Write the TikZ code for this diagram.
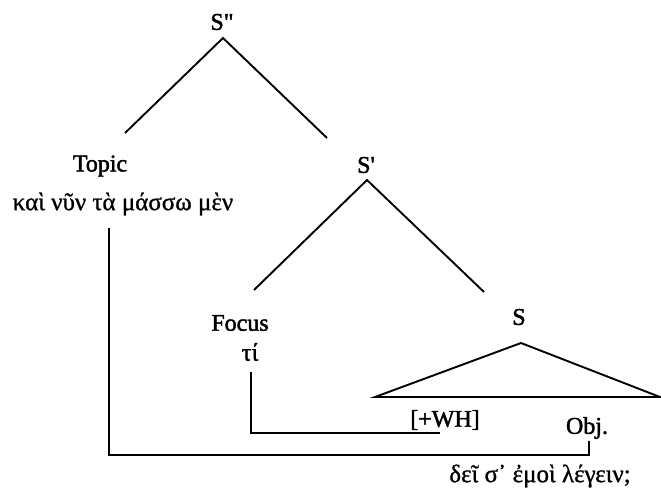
\documentclass[tikz,border=0pt]{standalone}
\usepackage{fontspec}
\setmainfont{Liberation Serif}
\newfontfamily\labfont{Liberation Serif}[FakeBold=1.8]
\newfontfamily\grfont{Liberation Serif}[FakeBold=1.0]
\begin{document}
\begin{tikzpicture}[x=1pt,y=-1pt,
  lab/.style={inner sep=0pt,font=\labfont\fontsize{24}{28}\selectfont},
  grk/.style={inner sep=0pt,font=\grfont\fontsize{25}{29}\selectfont},
  edge/.style={line width=1.9pt}]
\useasboundingbox (0,0) rectangle (661,490);
% labels
\node[lab] (spp) at (222,22) {S\char"22};
\node[lab] (topic) at (100,166) {Topic};
\node[grk] (topgr) at (123,204) {καὶ νῦν τὰ μάσσω μὲν};
\node[lab] (sp) at (366,165) {S\char"27};
\node[lab] (focus) at (240,323) {Focus};
\node[grk] (ti) at (250,352) {τί};
\node[lab] (s) at (519,317) {S};
\node[lab] (wh) at (445,420) {[+WH]};
\node[lab] (obj) at (587,428) {Obj.};
\node[grk] (botgr) at (540,476) {δεῖ σ᾽ ἐμοὶ λέγειν;};
% coordinates
\coordinate (a1) at (223,38);
\coordinate (a1l) at (125,133);
\coordinate (a1r) at (327,138);
\coordinate (a2) at (367,180);
\coordinate (a2l) at (254,290);
\coordinate (a2r) at (484,292);
\coordinate (a3) at (521,343);
\coordinate (a3l) at (375,397);
\coordinate (a3r) at (660,397);
\coordinate (tv) at (109,228);
\coordinate (tb) at (109,455);
\coordinate (fv) at (251,372);
\coordinate (fb) at (251,433);
\coordinate (fe) at (440,433);
\coordinate (ov) at (589,441);
\coordinate (ob) at (589,455);
% tree
\draw[edge] (a1l) -- (a1) -- (a1r);
\draw[edge] (a2l) -- (a2) -- (a2r);
\draw[edge,line join=miter] (a3) -- (a3l) -- (a3r) -- cycle;
% movement lines
\draw[edge] (tv) -- (tb) -- (ob) -- (ov);
\draw[edge] (fv) -- (fb) -- (fe);
\end{tikzpicture}
\end{document}
